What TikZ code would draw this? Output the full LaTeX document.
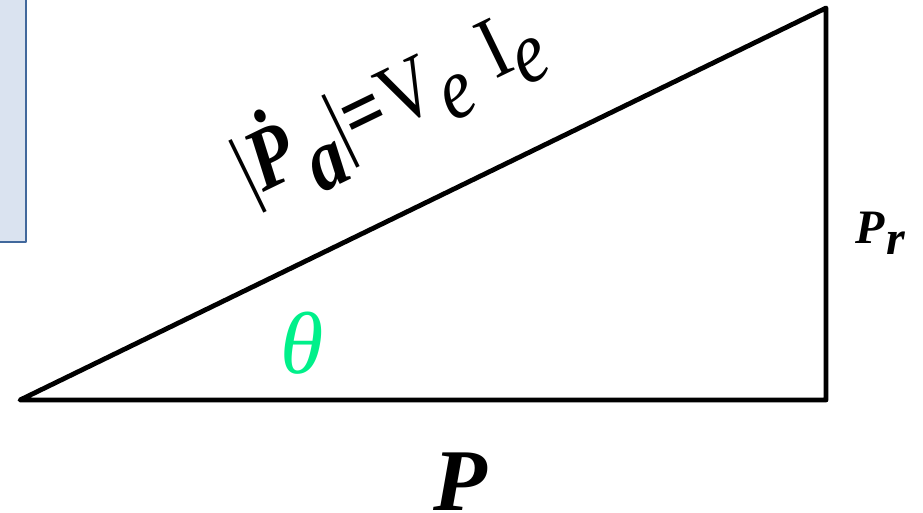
\documentclass[tikz,border=0pt]{standalone}
\usepackage{fontspec}
\setmainfont{Liberation Serif}
\usepackage{graphicx}
\usetikzlibrary{positioning}
\definecolor{ang}{HTML}{00F08A}
\definecolor{pane}{HTML}{DAE3F0}
\definecolor{paneedge}{HTML}{41689C}
\newcommand{\lowr}[2][0.22em]{\raisebox{-#1}{#2}}

\begin{document}
\begin{tikzpicture}[x=1pt, y=-1pt, line join=round,
  side/.style={line width=4.8pt},
  lbl/.style={inner sep=0pt, font=\fontsize{88}{90}\selectfont}]
\useasboundingbox (0,0) rectangle (923,512);
\fill[pane] (0,0) rectangle (26,242);
\draw[paneedge, line width=1.5pt] (26,0) -- (26,242) -- (0,242);
\coordinate (A) at (20,400);
\coordinate (B) at (826,400);
\coordinate (C) at (826,8);
\draw[side] (A) -- (B) -- (C) -- cycle;
\node[lbl, anchor=base west, rotate=25.9] (pa) at (250,199)
  {\scalebox{0.84}[1]{|\textbf{\textit{\.P}}\hspace{0.08em}\lowr[0.3em]{\textbf{\textit{a}}}|\textbf{=}\hspace{0.02em}V\lowr{\textit{e}}\hspace{0.08em} I\lowr{\textit{e}}}};
\node[lbl, anchor=base west, font=\fontsize{48}{50}\selectfont\bfseries\itshape] (pr) at (855,243) {P\hspace{0.04em}\lowr[0.24em]{r}};
\node[lbl, text=ang, font=\fontsize{88}{90}\selectfont\itshape] (th) at (302,343) {θ};
\node[lbl, anchor=base, font=\fontsize{88}{90}\selectfont\bfseries\itshape] (p) at (460,510) {P};
\end{tikzpicture}
\end{document}
